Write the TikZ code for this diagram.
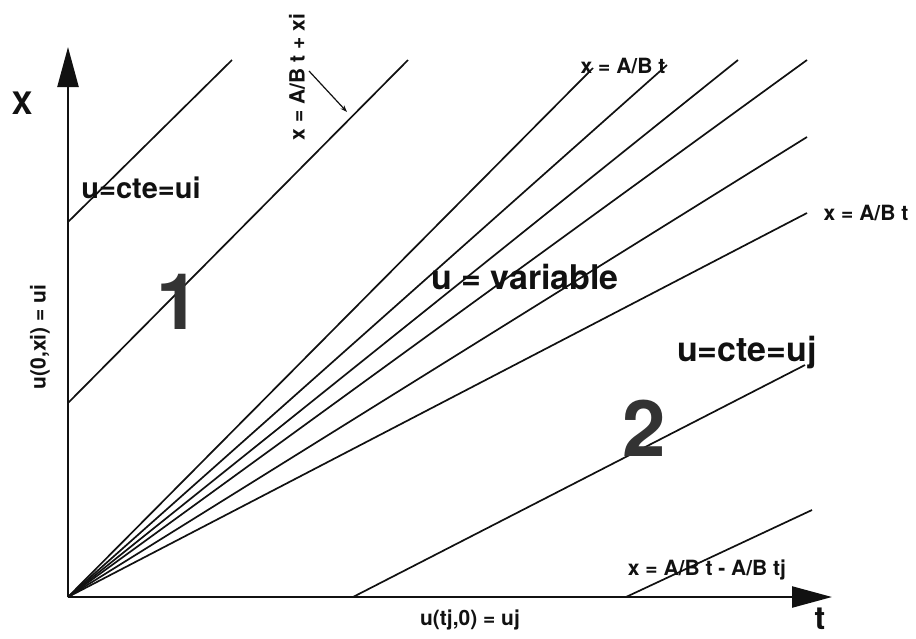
\documentclass[tikz,border=0pt]{standalone}
\usepackage{fontspec}
\setmainfont{TeX Gyre Heros}
\usepackage{xcolor}
\usepackage{tikz}
\usetikzlibrary{arrows.meta,positioning}
\definecolor{ink}{HTML}{111111}

\begin{document}
\begin{tikzpicture}[
    x=1pt, y=-1pt,
    axis/.style={line width=2.4pt, draw=ink, -{Triangle[length=40pt, width=21pt]}},
    charline/.style={line width=1.7pt, draw=ink},
    pointer/.style={-{Stealth[length=7pt, width=5pt]}, line width=1.2pt, draw=ink},
    lbl/.style={inner sep=0pt, text=ink, font=\fontsize{21}{24}\selectfont\bfseries},
    midlbl/.style={inner sep=0pt, text=ink, font=\fontsize{29}{32}\selectfont\bfseries},
    biglbl/.style={inner sep=0pt, text=ink, font=\fontsize{34}{37}\selectfont\bfseries},
    regionnum/.style={inner sep=0pt, text=black!80, font=\fontsize{78}{82}\selectfont\bfseries}
  ]
    \useasboundingbox (0,0) rectangle (916,638);

    % axes
    \coordinate (origin) at (68,597);
    \coordinate (xtip) at (832,597);
    \coordinate (ytip) at (68,47);
    \draw[axis] (origin) -- (xtip);
    \draw[axis] (origin) -- (ytip);
    \node[lbl, font=\fontsize{31}{33}\selectfont\bfseries] (xname) at (22,103) {X};
    \node[lbl, font=\fontsize{32}{34}\selectfont\bfseries] (tname) at (820,619) {t};

    % region 1
    \coordinate (ia) at (68,222);
    \coordinate (ib) at (232,60);
    \coordinate (ic) at (68,403);
    \coordinate (id) at (408,60);
    \draw[charline] (ia) -- (ib);
    \draw[charline] (ic) -- (id);

    % fan
    \foreach \fx/\fy [count=\k] in {593/68, 667/65, 738/60, 807/60, 807/137, 807/213}
      \draw[charline] (origin) -- (\fx,\fy) coordinate (fan\k);

    % region 2
    \coordinate (ja) at (353,597);
    \coordinate (jb) at (805,365);
    \coordinate (jc) at (626,597);
    \coordinate (jd) at (812,510);
    \draw[charline] (ja) -- (jb);
    \draw[charline] (jc) -- (jd);

    % labels
    \node[midlbl] (uconsti) at (141,188) {u=cte=ui};
    \node[biglbl] (uconstj) at (747,353) {u=cte=uj};
    \node[biglbl] (uvar) at (525,277) {u = variable};
    \node[regionnum] (one) at (178,302) {1};
    \node[regionnum] (two) at (644,428) {2};

    \node[lbl] (fantop) at (623,66) {x = A/B t};
    \node[lbl] (fanlow) at (866,213) {x = A/B t};
    \node[lbl, rotate=90] (lineone) at (297,77) {x = A/B t + xi};
    \node[lbl] (linetwo) at (707,570) {x = A/B t - A/B tj};
    \node[lbl] (bottomcond) at (470,620) {u(tj,0) = uj};
    \node[lbl, rotate=90] (leftcond) at (40,337) {u(0,xi) = ui};

    \coordinate (hit) at (347,112);
    \draw[pointer] (309,71) -- (hit);
  \end{tikzpicture}
\end{document}
